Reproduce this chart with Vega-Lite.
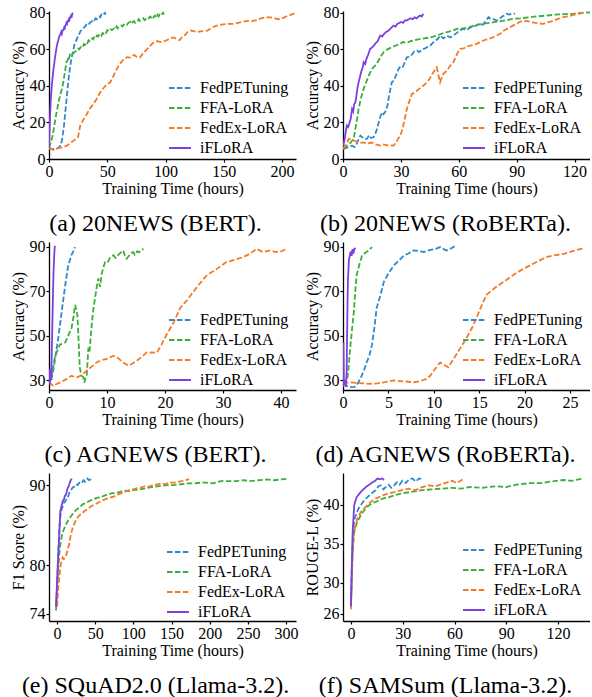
{
"$schema": "https://vega.github.io/schema/vega-lite/v6.json",
"padding": {"left": 10, "top": 4, "right": 0, "bottom": 0},
"config": {
  "font": "Liberation Serif",
  "view": {"stroke": null},
  "axis": {"grid": false, "domainColor": "black", "domainWidth": 1.3, "tickColor": "black", "tickSize": 3, "tickWidth": 1.2, "labelFont": "Liberation Serif", "labelFontSize": 16, "labelColor": "black", "labelPadding": 1, "titleFont": "Liberation Serif", "titleFontSize": 16, "titleFontWeight": "normal", "titleColor": "black", "labelFlush": false, "labelOverlap": false},
  "axisX": {"titlePadding": 1},
  "axisY": {"titlePadding": 3},
  "legend": {"labelFont": "Liberation Serif", "labelFontSize": 16, "labelColor": "black", "symbolSize": 484, "symbolStrokeWidth": 1.8, "labelOffset": 8, "rowPadding": -2, "padding": 0},
  "title": {"font": "Liberation Serif", "fontSize": 24, "fontWeight": "normal", "color": "black"}
},
"columns": 2,
"spacing": {"row": 83, "column": 47},
"bounds": "flush",
"resolve": {"scale": {"color": "independent", "strokeDash": "independent", "x": "independent", "y": "independent"}, "legend": {"color": "independent", "strokeDash": "independent"}},
"datasets": {
"a": [
{"s":"FedPETuning","t":0,"v":6},{"s":"FedPETuning","t":2,"v":5.5},{"s":"FedPETuning","t":4,"v":5},{"s":"FedPETuning","t":6,"v":5.5},{"s":"FedPETuning","t":8,"v":6},{"s":"FedPETuning","t":10,"v":7.5},{"s":"FedPETuning","t":11,"v":10},{"s":"FedPETuning","t":12,"v":14},{"s":"FedPETuning","t":13,"v":19},{"s":"FedPETuning","t":14,"v":26},{"s":"FedPETuning","t":15,"v":32},{"s":"FedPETuning","t":16,"v":39},{"s":"FedPETuning","t":17,"v":45},{"s":"FedPETuning","t":18,"v":50},{"s":"FedPETuning","t":19,"v":54},{"s":"FedPETuning","t":20,"v":57},{"s":"FedPETuning","t":21,"v":60},{"s":"FedPETuning","t":22,"v":63},{"s":"FedPETuning","t":23,"v":64},{"s":"FedPETuning","t":24,"v":66},{"s":"FedPETuning","t":25,"v":67},{"s":"FedPETuning","t":26,"v":68.5},{"s":"FedPETuning","t":27,"v":70},{"s":"FedPETuning","t":28,"v":70.5},{"s":"FedPETuning","t":29,"v":71.5},{"s":"FedPETuning","t":30,"v":72},{"s":"FedPETuning","t":31,"v":72.5},{"s":"FedPETuning","t":32,"v":73.5},{"s":"FedPETuning","t":33,"v":74},{"s":"FedPETuning","t":34,"v":73.5},{"s":"FedPETuning","t":35,"v":74.5},{"s":"FedPETuning","t":36,"v":75},{"s":"FedPETuning","t":37,"v":75.5},{"s":"FedPETuning","t":38,"v":76.5},{"s":"FedPETuning","t":39,"v":76},{"s":"FedPETuning","t":40,"v":77},{"s":"FedPETuning","t":41,"v":76.5},{"s":"FedPETuning","t":42,"v":77.5},{"s":"FedPETuning","t":43,"v":78},{"s":"FedPETuning","t":44,"v":77.5},{"s":"FedPETuning","t":45,"v":79},{"s":"FedPETuning","t":46,"v":78.5},{"s":"FedPETuning","t":47,"v":79.5},{"s":"FedPETuning","t":48,"v":80},{"s":"FedPETuning","t":48.5,"v":79},
{"s":"FFA-LoRA","t":0,"v":6},{"s":"FFA-LoRA","t":1,"v":8},{"s":"FFA-LoRA","t":2,"v":10},{"s":"FFA-LoRA","t":3,"v":12.5},{"s":"FFA-LoRA","t":3.7,"v":15},{"s":"FFA-LoRA","t":5,"v":20},{"s":"FFA-LoRA","t":6.6,"v":26},{"s":"FFA-LoRA","t":8.5,"v":32},{"s":"FFA-LoRA","t":10,"v":36},{"s":"FFA-LoRA","t":11,"v":38},{"s":"FFA-LoRA","t":12,"v":41},{"s":"FFA-LoRA","t":13,"v":45},{"s":"FFA-LoRA","t":14,"v":49},{"s":"FFA-LoRA","t":15,"v":53},{"s":"FFA-LoRA","t":16,"v":54},{"s":"FFA-LoRA","t":16.5,"v":55.5},{"s":"FFA-LoRA","t":17,"v":54.5},{"s":"FFA-LoRA","t":18,"v":57},{"s":"FFA-LoRA","t":19,"v":56.5},{"s":"FFA-LoRA","t":20,"v":57.5},{"s":"FFA-LoRA","t":21,"v":58},{"s":"FFA-LoRA","t":22,"v":58.5},{"s":"FFA-LoRA","t":23,"v":59},{"s":"FFA-LoRA","t":24,"v":59.5},{"s":"FFA-LoRA","t":25,"v":60.5},{"s":"FFA-LoRA","t":26,"v":60},{"s":"FFA-LoRA","t":27,"v":61},{"s":"FFA-LoRA","t":28,"v":62},{"s":"FFA-LoRA","t":29,"v":61.5},{"s":"FFA-LoRA","t":30,"v":63},{"s":"FFA-LoRA","t":31,"v":62.5},{"s":"FFA-LoRA","t":32,"v":64},{"s":"FFA-LoRA","t":33,"v":63.5},{"s":"FFA-LoRA","t":34,"v":65},{"s":"FFA-LoRA","t":35,"v":64.5},{"s":"FFA-LoRA","t":36,"v":65.5},{"s":"FFA-LoRA","t":37,"v":66},{"s":"FFA-LoRA","t":38,"v":65.5},{"s":"FFA-LoRA","t":39,"v":67},{"s":"FFA-LoRA","t":40,"v":66.5},{"s":"FFA-LoRA","t":41,"v":67.5},{"s":"FFA-LoRA","t":42,"v":67},{"s":"FFA-LoRA","t":43,"v":68},{"s":"FFA-LoRA","t":44,"v":68.5},{"s":"FFA-LoRA","t":45,"v":67.5},{"s":"FFA-LoRA","t":46,"v":69},{"s":"FFA-LoRA","t":47,"v":68.5},{"s":"FFA-LoRA","t":48,"v":69.5},{"s":"FFA-LoRA","t":49,"v":69},{"s":"FFA-LoRA","t":50,"v":70.5},{"s":"FFA-LoRA","t":52,"v":70},{"s":"FFA-LoRA","t":53,"v":71},{"s":"FFA-LoRA","t":54,"v":70.5},{"s":"FFA-LoRA","t":56,"v":71.5},{"s":"FFA-LoRA","t":57,"v":71},{"s":"FFA-LoRA","t":58,"v":72.5},{"s":"FFA-LoRA","t":59,"v":71.5},{"s":"FFA-LoRA","t":60,"v":72.5},{"s":"FFA-LoRA","t":62,"v":73},{"s":"FFA-LoRA","t":63,"v":72.5},{"s":"FFA-LoRA","t":64,"v":73.5},{"s":"FFA-LoRA","t":66,"v":74},{"s":"FFA-LoRA","t":67,"v":73.5},{"s":"FFA-LoRA","t":68,"v":74.5},{"s":"FFA-LoRA","t":70,"v":75},{"s":"FFA-LoRA","t":71,"v":74},{"s":"FFA-LoRA","t":72,"v":75},{"s":"FFA-LoRA","t":73,"v":75.5},{"s":"FFA-LoRA","t":74,"v":74.5},{"s":"FFA-LoRA","t":76,"v":75.5},{"s":"FFA-LoRA","t":77,"v":76.5},{"s":"FFA-LoRA","t":78,"v":75.5},{"s":"FFA-LoRA","t":80,"v":76.5},{"s":"FFA-LoRA","t":81,"v":77},{"s":"FFA-LoRA","t":82,"v":76},{"s":"FFA-LoRA","t":84,"v":77},{"s":"FFA-LoRA","t":85,"v":76.5},{"s":"FFA-LoRA","t":86,"v":77.5},{"s":"FFA-LoRA","t":87,"v":78},{"s":"FFA-LoRA","t":88,"v":77},{"s":"FFA-LoRA","t":89,"v":76.5},{"s":"FFA-LoRA","t":90,"v":78},{"s":"FFA-LoRA","t":91,"v":78.5},{"s":"FFA-LoRA","t":92,"v":77.5},{"s":"FFA-LoRA","t":93,"v":79},{"s":"FFA-LoRA","t":94,"v":78},{"s":"FFA-LoRA","t":95,"v":79},{"s":"FFA-LoRA","t":96,"v":78.5},{"s":"FFA-LoRA","t":97,"v":79.5},{"s":"FFA-LoRA","t":98,"v":80},{"s":"FFA-LoRA","t":98.5,"v":79},
{"s":"FedEx-LoRA","t":0,"v":5.5},{"s":"FedEx-LoRA","t":4,"v":5.5},{"s":"FedEx-LoRA","t":8,"v":6},{"s":"FedEx-LoRA","t":12,"v":6.4},{"s":"FedEx-LoRA","t":16,"v":7.5},{"s":"FedEx-LoRA","t":20,"v":9.5},{"s":"FedEx-LoRA","t":23,"v":11},{"s":"FedEx-LoRA","t":25,"v":12},{"s":"FedEx-LoRA","t":26.7,"v":18},{"s":"FedEx-LoRA","t":29,"v":21},{"s":"FedEx-LoRA","t":32,"v":24},{"s":"FedEx-LoRA","t":35,"v":27.5},{"s":"FedEx-LoRA","t":38,"v":30},{"s":"FedEx-LoRA","t":41,"v":33},{"s":"FedEx-LoRA","t":44,"v":36.5},{"s":"FedEx-LoRA","t":47,"v":39},{"s":"FedEx-LoRA","t":50,"v":41},{"s":"FedEx-LoRA","t":52.6,"v":42},{"s":"FedEx-LoRA","t":55,"v":45},{"s":"FedEx-LoRA","t":57,"v":48},{"s":"FedEx-LoRA","t":59.8,"v":51},{"s":"FedEx-LoRA","t":62,"v":53},{"s":"FedEx-LoRA","t":64,"v":54.5},{"s":"FedEx-LoRA","t":67,"v":55.7},{"s":"FedEx-LoRA","t":70,"v":55.5},{"s":"FedEx-LoRA","t":73,"v":57},{"s":"FedEx-LoRA","t":75,"v":56},{"s":"FedEx-LoRA","t":78,"v":55.5},{"s":"FedEx-LoRA","t":81,"v":58},{"s":"FedEx-LoRA","t":84,"v":60},{"s":"FedEx-LoRA","t":87,"v":62},{"s":"FedEx-LoRA","t":90,"v":64},{"s":"FedEx-LoRA","t":93,"v":64.5},{"s":"FedEx-LoRA","t":96,"v":64},{"s":"FedEx-LoRA","t":99,"v":64.5},{"s":"FedEx-LoRA","t":101,"v":65},{"s":"FedEx-LoRA","t":104,"v":66},{"s":"FedEx-LoRA","t":107,"v":66.5},{"s":"FedEx-LoRA","t":110,"v":65.5},{"s":"FedEx-LoRA","t":112,"v":65},{"s":"FedEx-LoRA","t":114,"v":66.5},{"s":"FedEx-LoRA","t":117,"v":68},{"s":"FedEx-LoRA","t":119,"v":69.5},{"s":"FedEx-LoRA","t":121.6,"v":70.3},{"s":"FedEx-LoRA","t":124,"v":70},{"s":"FedEx-LoRA","t":127,"v":69.5},{"s":"FedEx-LoRA","t":130,"v":69.8},{"s":"FedEx-LoRA","t":133,"v":70},{"s":"FedEx-LoRA","t":136,"v":70.3},{"s":"FedEx-LoRA","t":140,"v":72},{"s":"FedEx-LoRA","t":144,"v":73},{"s":"FedEx-LoRA","t":148,"v":73.5},{"s":"FedEx-LoRA","t":153,"v":74},{"s":"FedEx-LoRA","t":158,"v":74},{"s":"FedEx-LoRA","t":162,"v":74.5},{"s":"FedEx-LoRA","t":166,"v":75},{"s":"FedEx-LoRA","t":170,"v":75.6},{"s":"FedEx-LoRA","t":174,"v":75.5},{"s":"FedEx-LoRA","t":178,"v":76},{"s":"FedEx-LoRA","t":182,"v":77},{"s":"FedEx-LoRA","t":186,"v":77.5},{"s":"FedEx-LoRA","t":190,"v":77.5},{"s":"FedEx-LoRA","t":194,"v":77},{"s":"FedEx-LoRA","t":197,"v":76.5},{"s":"FedEx-LoRA","t":199,"v":76.7},{"s":"FedEx-LoRA","t":202,"v":77.5},{"s":"FedEx-LoRA","t":205,"v":78.5},{"s":"FedEx-LoRA","t":208,"v":79},{"s":"FedEx-LoRA","t":212,"v":80},
{"s":"iFLoRA","t":0,"v":6},{"s":"iFLoRA","t":0.3,"v":12},{"s":"iFLoRA","t":0.6,"v":18},{"s":"iFLoRA","t":1,"v":25},{"s":"iFLoRA","t":1.5,"v":32},{"s":"iFLoRA","t":2,"v":37},{"s":"iFLoRA","t":2.5,"v":41},{"s":"iFLoRA","t":3,"v":44},{"s":"iFLoRA","t":3.5,"v":47},{"s":"iFLoRA","t":4,"v":50},{"s":"iFLoRA","t":4.5,"v":52},{"s":"iFLoRA","t":5,"v":55},{"s":"iFLoRA","t":5.5,"v":57},{"s":"iFLoRA","t":6,"v":59},{"s":"iFLoRA","t":6.5,"v":61},{"s":"iFLoRA","t":7,"v":62.5},{"s":"iFLoRA","t":7.5,"v":64},{"s":"iFLoRA","t":8,"v":65},{"s":"iFLoRA","t":8.5,"v":66.5},{"s":"iFLoRA","t":9,"v":67.5},{"s":"iFLoRA","t":9.5,"v":68},{"s":"iFLoRA","t":10,"v":68.5},{"s":"iFLoRA","t":10.5,"v":69.5},{"s":"iFLoRA","t":11,"v":68.5},{"s":"iFLoRA","t":11.5,"v":70},{"s":"iFLoRA","t":12,"v":70.5},{"s":"iFLoRA","t":12.5,"v":71},{"s":"iFLoRA","t":13,"v":72},{"s":"iFLoRA","t":13.5,"v":71.5},{"s":"iFLoRA","t":14,"v":73},{"s":"iFLoRA","t":14.5,"v":73.5},{"s":"iFLoRA","t":15,"v":74.5},{"s":"iFLoRA","t":15.5,"v":74},{"s":"iFLoRA","t":16,"v":75.5},{"s":"iFLoRA","t":16.5,"v":75.5},{"s":"iFLoRA","t":17,"v":76.5},{"s":"iFLoRA","t":17.5,"v":76},{"s":"iFLoRA","t":18,"v":77.5},{"s":"iFLoRA","t":18.5,"v":77.5},{"s":"iFLoRA","t":19,"v":78.5},{"s":"iFLoRA","t":19.5,"v":78},{"s":"iFLoRA","t":20,"v":79.5},{"s":"iFLoRA","t":20.5,"v":80}
],
"b": [
{"s":"FedPETuning","t":0,"v":5.5},{"s":"FedPETuning","t":1.5,"v":6},{"s":"FedPETuning","t":3,"v":6.5},{"s":"FedPETuning","t":4.7,"v":7.3},{"s":"FedPETuning","t":6,"v":6.5},{"s":"FedPETuning","t":7,"v":8},{"s":"FedPETuning","t":8,"v":10.5},{"s":"FedPETuning","t":9,"v":12.8},{"s":"FedPETuning","t":10,"v":12},{"s":"FedPETuning","t":11,"v":11},{"s":"FedPETuning","t":12.4,"v":11},{"s":"FedPETuning","t":13.5,"v":13},{"s":"FedPETuning","t":14.5,"v":11.5},{"s":"FedPETuning","t":15.9,"v":12},{"s":"FedPETuning","t":16.5,"v":13},{"s":"FedPETuning","t":17.6,"v":16.4},{"s":"FedPETuning","t":18.5,"v":20},{"s":"FedPETuning","t":19.3,"v":23},{"s":"FedPETuning","t":20.2,"v":25.6},{"s":"FedPETuning","t":21,"v":24.5},{"s":"FedPETuning","t":22,"v":26},{"s":"FedPETuning","t":23,"v":29},{"s":"FedPETuning","t":23.6,"v":33},{"s":"FedPETuning","t":24.5,"v":38},{"s":"FedPETuning","t":25.3,"v":42},{"s":"FedPETuning","t":26.5,"v":43},{"s":"FedPETuning","t":27.5,"v":46},{"s":"FedPETuning","t":28.8,"v":49.3},{"s":"FedPETuning","t":30,"v":51},{"s":"FedPETuning","t":31,"v":50.5},{"s":"FedPETuning","t":32,"v":53},{"s":"FedPETuning","t":33.1,"v":55.7},{"s":"FedPETuning","t":34.5,"v":56},{"s":"FedPETuning","t":36,"v":57.5},{"s":"FedPETuning","t":37,"v":59},{"s":"FedPETuning","t":38.3,"v":59.4},{"s":"FedPETuning","t":39.5,"v":58.5},{"s":"FedPETuning","t":41,"v":60},{"s":"FedPETuning","t":42.5,"v":60.5},{"s":"FedPETuning","t":44,"v":61.5},{"s":"FedPETuning","t":45.2,"v":62},{"s":"FedPETuning","t":46.5,"v":63.5},{"s":"FedPETuning","t":48,"v":65},{"s":"FedPETuning","t":49,"v":65.5},{"s":"FedPETuning","t":50.3,"v":67.6},{"s":"FedPETuning","t":52,"v":66},{"s":"FedPETuning","t":54,"v":67.5},{"s":"FedPETuning","t":55.5,"v":66.5},{"s":"FedPETuning","t":57.2,"v":67.6},{"s":"FedPETuning","t":59,"v":69},{"s":"FedPETuning","t":60.5,"v":70.5},{"s":"FedPETuning","t":62.4,"v":71.2},{"s":"FedPETuning","t":64,"v":70.5},{"s":"FedPETuning","t":66,"v":72},{"s":"FedPETuning","t":68,"v":72.5},{"s":"FedPETuning","t":69.5,"v":73.5},{"s":"FedPETuning","t":71,"v":74},{"s":"FedPETuning","t":72.5,"v":73.5},{"s":"FedPETuning","t":74,"v":75.5},{"s":"FedPETuning","t":75.4,"v":77.6},{"s":"FedPETuning","t":76.5,"v":76.5},{"s":"FedPETuning","t":78,"v":76.5},{"s":"FedPETuning","t":79.7,"v":75.8},{"s":"FedPETuning","t":81,"v":76.5},{"s":"FedPETuning","t":82.5,"v":78},{"s":"FedPETuning","t":83.5,"v":78.5},{"s":"FedPETuning","t":84.8,"v":79.5},{"s":"FedPETuning","t":86,"v":79},{"s":"FedPETuning","t":87.5,"v":79.5},{"s":"FedPETuning","t":89.1,"v":79.5},
{"s":"FFA-LoRA","t":0,"v":6},{"s":"FFA-LoRA","t":2,"v":7},{"s":"FFA-LoRA","t":4,"v":9},{"s":"FFA-LoRA","t":5.5,"v":11},{"s":"FFA-LoRA","t":6.5,"v":17},{"s":"FFA-LoRA","t":7.3,"v":22},{"s":"FFA-LoRA","t":8.1,"v":27.4},{"s":"FFA-LoRA","t":9,"v":32},{"s":"FFA-LoRA","t":10,"v":36},{"s":"FFA-LoRA","t":10.7,"v":38.4},{"s":"FFA-LoRA","t":12,"v":42},{"s":"FFA-LoRA","t":13.5,"v":46},{"s":"FFA-LoRA","t":15,"v":49.3},{"s":"FFA-LoRA","t":16.5,"v":51},{"s":"FFA-LoRA","t":18,"v":53},{"s":"FFA-LoRA","t":19.5,"v":56},{"s":"FFA-LoRA","t":21,"v":58.4},{"s":"FFA-LoRA","t":23,"v":60},{"s":"FFA-LoRA","t":25,"v":61},{"s":"FFA-LoRA","t":27,"v":62},{"s":"FFA-LoRA","t":29.7,"v":63},{"s":"FFA-LoRA","t":31,"v":64},{"s":"FFA-LoRA","t":33,"v":63.5},{"s":"FFA-LoRA","t":35,"v":64.5},{"s":"FFA-LoRA","t":36.6,"v":64.8},{"s":"FFA-LoRA","t":39,"v":65.5},{"s":"FFA-LoRA","t":42,"v":66},{"s":"FFA-LoRA","t":45,"v":66.5},{"s":"FFA-LoRA","t":48.6,"v":67.6},{"s":"FFA-LoRA","t":51,"v":68.5},{"s":"FFA-LoRA","t":54,"v":69.5},{"s":"FFA-LoRA","t":56,"v":70},{"s":"FFA-LoRA","t":59,"v":71.2},{"s":"FFA-LoRA","t":62,"v":71.5},{"s":"FFA-LoRA","t":65,"v":72},{"s":"FFA-LoRA","t":68,"v":73},{"s":"FFA-LoRA","t":70,"v":73.5},{"s":"FFA-LoRA","t":72.8,"v":74},{"s":"FFA-LoRA","t":76,"v":74.5},{"s":"FFA-LoRA","t":79,"v":75},{"s":"FFA-LoRA","t":82,"v":75.5},{"s":"FFA-LoRA","t":85,"v":76},{"s":"FFA-LoRA","t":88.3,"v":76.7},{"s":"FFA-LoRA","t":92,"v":77},{"s":"FFA-LoRA","t":96,"v":77.5},{"s":"FFA-LoRA","t":100,"v":78},{"s":"FFA-LoRA","t":105.5,"v":78.5},{"s":"FFA-LoRA","t":110,"v":79},{"s":"FFA-LoRA","t":115,"v":79.3},{"s":"FFA-LoRA","t":120,"v":79.6},{"s":"FFA-LoRA","t":124,"v":80},{"s":"FFA-LoRA","t":128,"v":80.3},
{"s":"FedEx-LoRA","t":0,"v":5.5},{"s":"FedEx-LoRA","t":1.5,"v":8},{"s":"FedEx-LoRA","t":3.1,"v":11},{"s":"FedEx-LoRA","t":5,"v":10.5},{"s":"FedEx-LoRA","t":7,"v":9.5},{"s":"FedEx-LoRA","t":9,"v":9},{"s":"FedEx-LoRA","t":10.7,"v":9},{"s":"FedEx-LoRA","t":13,"v":8.5},{"s":"FedEx-LoRA","t":15,"v":9},{"s":"FedEx-LoRA","t":17,"v":8},{"s":"FedEx-LoRA","t":19.3,"v":7.3},{"s":"FedEx-LoRA","t":21,"v":8},{"s":"FedEx-LoRA","t":23,"v":7.5},{"s":"FedEx-LoRA","t":26.2,"v":7.3},{"s":"FedEx-LoRA","t":27.5,"v":9},{"s":"FedEx-LoRA","t":28.5,"v":11},{"s":"FedEx-LoRA","t":29.7,"v":12.8},{"s":"FedEx-LoRA","t":31,"v":17},{"s":"FedEx-LoRA","t":32,"v":22},{"s":"FedEx-LoRA","t":33.1,"v":27.4},{"s":"FedEx-LoRA","t":34.5,"v":32},{"s":"FedEx-LoRA","t":35.7,"v":35.6},{"s":"FedEx-LoRA","t":37.5,"v":36.5},{"s":"FedEx-LoRA","t":39,"v":38},{"s":"FedEx-LoRA","t":41.7,"v":40.2},{"s":"FedEx-LoRA","t":43.5,"v":42},{"s":"FedEx-LoRA","t":45,"v":44},{"s":"FedEx-LoRA","t":46.5,"v":47},{"s":"FedEx-LoRA","t":48.6,"v":50.2},{"s":"FedEx-LoRA","t":49.2,"v":47},{"s":"FedEx-LoRA","t":50.3,"v":42},{"s":"FedEx-LoRA","t":51,"v":44},{"s":"FedEx-LoRA","t":52,"v":46.6},{"s":"FedEx-LoRA","t":54,"v":48.5},{"s":"FedEx-LoRA","t":55.5,"v":51},{"s":"FedEx-LoRA","t":57.2,"v":53},{"s":"FedEx-LoRA","t":58.5,"v":56},{"s":"FedEx-LoRA","t":59.5,"v":58.5},{"s":"FedEx-LoRA","t":60.7,"v":60.3},{"s":"FedEx-LoRA","t":62.5,"v":60.5},{"s":"FedEx-LoRA","t":64,"v":61.5},{"s":"FedEx-LoRA","t":66,"v":62},{"s":"FedEx-LoRA","t":67.5,"v":62.5},{"s":"FedEx-LoRA","t":69.3,"v":63},{"s":"FedEx-LoRA","t":71,"v":64},{"s":"FedEx-LoRA","t":73,"v":65},{"s":"FedEx-LoRA","t":75,"v":65.5},{"s":"FedEx-LoRA","t":77.5,"v":66.5},{"s":"FedEx-LoRA","t":79.7,"v":67.6},{"s":"FedEx-LoRA","t":81.5,"v":68.5},{"s":"FedEx-LoRA","t":83,"v":70},{"s":"FedEx-LoRA","t":84.5,"v":71},{"s":"FedEx-LoRA","t":86.6,"v":72.1},{"s":"FedEx-LoRA","t":88,"v":73},{"s":"FedEx-LoRA","t":90,"v":74},{"s":"FedEx-LoRA","t":91.5,"v":75},{"s":"FedEx-LoRA","t":93.5,"v":75.8},{"s":"FedEx-LoRA","t":95.5,"v":75.5},{"s":"FedEx-LoRA","t":97.5,"v":75},{"s":"FedEx-LoRA","t":99.5,"v":74.5},{"s":"FedEx-LoRA","t":101.5,"v":74.2},{"s":"FedEx-LoRA","t":103.8,"v":74},{"s":"FedEx-LoRA","t":106,"v":74.8},{"s":"FedEx-LoRA","t":108.5,"v":75.5},{"s":"FedEx-LoRA","t":111,"v":76.5},{"s":"FedEx-LoRA","t":114.2,"v":77.6},{"s":"FedEx-LoRA","t":117,"v":78.2},{"s":"FedEx-LoRA","t":120,"v":79},{"s":"FedEx-LoRA","t":122,"v":79.5},{"s":"FedEx-LoRA","t":124.5,"v":80},
{"s":"iFLoRA","t":0,"v":7.3},{"s":"iFLoRA","t":0.7,"v":10},{"s":"iFLoRA","t":1.3,"v":14},{"s":"iFLoRA","t":2,"v":18.3},{"s":"iFLoRA","t":2.7,"v":17.5},{"s":"iFLoRA","t":3.4,"v":20},{"s":"iFLoRA","t":4,"v":22},{"s":"iFLoRA","t":4.7,"v":27.4},{"s":"iFLoRA","t":5.3,"v":26},{"s":"iFLoRA","t":5.8,"v":30},{"s":"iFLoRA","t":6.4,"v":31},{"s":"iFLoRA","t":7,"v":35},{"s":"iFLoRA","t":7.5,"v":39},{"s":"iFLoRA","t":8.1,"v":42},{"s":"iFLoRA","t":8.8,"v":45},{"s":"iFLoRA","t":9.5,"v":48},{"s":"iFLoRA","t":10.2,"v":50},{"s":"iFLoRA","t":10.7,"v":53},{"s":"iFLoRA","t":11.5,"v":52},{"s":"iFLoRA","t":12.2,"v":55},{"s":"iFLoRA","t":13,"v":57},{"s":"iFLoRA","t":14.1,"v":60.3},{"s":"iFLoRA","t":15,"v":61},{"s":"iFLoRA","t":16,"v":62},{"s":"iFLoRA","t":17,"v":63.5},{"s":"iFLoRA","t":18,"v":64.5},{"s":"iFLoRA","t":19.3,"v":67.6},{"s":"iFLoRA","t":20.3,"v":67},{"s":"iFLoRA","t":21.3,"v":68.5},{"s":"iFLoRA","t":22.3,"v":69.5},{"s":"iFLoRA","t":23.3,"v":70},{"s":"iFLoRA","t":24.3,"v":71},{"s":"iFLoRA","t":25.2,"v":72},{"s":"iFLoRA","t":26.2,"v":73},{"s":"iFLoRA","t":27.2,"v":72.5},{"s":"iFLoRA","t":28.2,"v":74},{"s":"iFLoRA","t":29.2,"v":74.5},{"s":"iFLoRA","t":30.2,"v":75},{"s":"iFLoRA","t":31.2,"v":74.5},{"s":"iFLoRA","t":32.2,"v":76},{"s":"iFLoRA","t":33.1,"v":75.8},{"s":"iFLoRA","t":34.1,"v":76.5},{"s":"iFLoRA","t":35.1,"v":77},{"s":"iFLoRA","t":36.1,"v":76.5},{"s":"iFLoRA","t":37.1,"v":77.5},{"s":"iFLoRA","t":38.1,"v":77},{"s":"iFLoRA","t":39.1,"v":78},{"s":"iFLoRA","t":40,"v":78.5},{"s":"iFLoRA","t":40.8,"v":78},{"s":"iFLoRA","t":41.7,"v":79.5}
],
"c": [
{"s":"FedPETuning","t":0.4,"v":30},{"s":"FedPETuning","t":0.6,"v":32.8},{"s":"FedPETuning","t":0.8,"v":35.5},{"s":"FedPETuning","t":1,"v":38.7},{"s":"FedPETuning","t":1.3,"v":44},{"s":"FedPETuning","t":1.6,"v":49},{"s":"FedPETuning","t":1.9,"v":55},{"s":"FedPETuning","t":2.2,"v":61},{"s":"FedPETuning","t":2.5,"v":67},{"s":"FedPETuning","t":2.8,"v":72.8},{"s":"FedPETuning","t":3.1,"v":78},{"s":"FedPETuning","t":3.3,"v":81.7},{"s":"FedPETuning","t":3.6,"v":84},{"s":"FedPETuning","t":3.9,"v":86.5},{"s":"FedPETuning","t":4.2,"v":88},{"s":"FedPETuning","t":4.5,"v":89.9},
{"s":"FFA-LoRA","t":0.4,"v":31},{"s":"FFA-LoRA","t":0.6,"v":34.3},{"s":"FFA-LoRA","t":1,"v":40.2},{"s":"FFA-LoRA","t":1.4,"v":43},{"s":"FFA-LoRA","t":1.9,"v":46.1},{"s":"FFA-LoRA","t":2.4,"v":46.5},{"s":"FFA-LoRA","t":2.8,"v":47},{"s":"FFA-LoRA","t":3.3,"v":50},{"s":"FFA-LoRA","t":3.9,"v":53.6},{"s":"FFA-LoRA","t":4.2,"v":58},{"s":"FFA-LoRA","t":4.5,"v":63.9},{"s":"FFA-LoRA","t":4.7,"v":62},{"s":"FFA-LoRA","t":4.9,"v":59.5},{"s":"FFA-LoRA","t":5.1,"v":48},{"s":"FFA-LoRA","t":5.3,"v":35.8},{"s":"FFA-LoRA","t":5.6,"v":32},{"s":"FFA-LoRA","t":5.9,"v":31.4},{"s":"FFA-LoRA","t":6.1,"v":29},{"s":"FFA-LoRA","t":6.3,"v":31},{"s":"FFA-LoRA","t":6.5,"v":32},{"s":"FFA-LoRA","t":6.8,"v":44.7},{"s":"FFA-LoRA","t":7,"v":43},{"s":"FFA-LoRA","t":7.2,"v":50},{"s":"FFA-LoRA","t":7.6,"v":61},{"s":"FFA-LoRA","t":8,"v":68},{"s":"FFA-LoRA","t":8.3,"v":73},{"s":"FFA-LoRA","t":8.5,"v":75.8},{"s":"FFA-LoRA","t":8.8,"v":72},{"s":"FFA-LoRA","t":9.1,"v":78},{"s":"FFA-LoRA","t":9.4,"v":81},{"s":"FFA-LoRA","t":9.7,"v":83.2},{"s":"FFA-LoRA","t":10.1,"v":83},{"s":"FFA-LoRA","t":10.5,"v":85},{"s":"FFA-LoRA","t":11.1,"v":86.2},{"s":"FFA-LoRA","t":11.5,"v":85},{"s":"FFA-LoRA","t":12,"v":86.5},{"s":"FFA-LoRA","t":12.4,"v":87.5},{"s":"FFA-LoRA","t":12.8,"v":88.4},{"s":"FFA-LoRA","t":13.1,"v":86},{"s":"FFA-LoRA","t":13.4,"v":84.7},{"s":"FFA-LoRA","t":13.8,"v":86},{"s":"FFA-LoRA","t":14.1,"v":87},{"s":"FFA-LoRA","t":14.5,"v":87.7},{"s":"FFA-LoRA","t":14.8,"v":86.5},{"s":"FFA-LoRA","t":15.2,"v":88},{"s":"FFA-LoRA","t":15.5,"v":87.5},{"s":"FFA-LoRA","t":15.9,"v":88.5},{"s":"FFA-LoRA","t":16.3,"v":89.1},
{"s":"FedEx-LoRA","t":0,"v":29.1},{"s":"FedEx-LoRA","t":0.7,"v":27.5},{"s":"FedEx-LoRA","t":1.5,"v":28.5},{"s":"FedEx-LoRA","t":2.3,"v":29.5},{"s":"FedEx-LoRA","t":3.1,"v":30.6},{"s":"FedEx-LoRA","t":3.9,"v":32},{"s":"FedEx-LoRA","t":4.4,"v":31.5},{"s":"FedEx-LoRA","t":5,"v":31.4},{"s":"FedEx-LoRA","t":5.7,"v":32.5},{"s":"FedEx-LoRA","t":6.5,"v":34.3},{"s":"FedEx-LoRA","t":7.3,"v":36},{"s":"FedEx-LoRA","t":8.2,"v":38},{"s":"FedEx-LoRA","t":9,"v":39},{"s":"FedEx-LoRA","t":10,"v":39.6},{"s":"FedEx-LoRA","t":11.1,"v":41},{"s":"FedEx-LoRA","t":11.9,"v":40},{"s":"FedEx-LoRA","t":12.8,"v":38},{"s":"FedEx-LoRA","t":13.7,"v":36.6},{"s":"FedEx-LoRA","t":14.4,"v":37.5},{"s":"FedEx-LoRA","t":15.1,"v":38.7},{"s":"FedEx-LoRA","t":16,"v":40.5},{"s":"FedEx-LoRA","t":16.8,"v":42.4},{"s":"FedEx-LoRA","t":17.7,"v":42.5},{"s":"FedEx-LoRA","t":18.6,"v":42.4},{"s":"FedEx-LoRA","t":19.4,"v":46},{"s":"FedEx-LoRA","t":20.3,"v":50.6},{"s":"FedEx-LoRA","t":21.5,"v":56},{"s":"FedEx-LoRA","t":22.6,"v":62.4},{"s":"FedEx-LoRA","t":23.8,"v":66},{"s":"FedEx-LoRA","t":24.9,"v":69.8},{"s":"FedEx-LoRA","t":26,"v":73.5},{"s":"FedEx-LoRA","t":27.2,"v":77.2},{"s":"FedEx-LoRA","t":28.9,"v":80},{"s":"FedEx-LoRA","t":30.6,"v":83.2},{"s":"FedEx-LoRA","t":32,"v":84.2},{"s":"FedEx-LoRA","t":33.5,"v":85.4},{"s":"FedEx-LoRA","t":34.7,"v":87},{"s":"FedEx-LoRA","t":35.8,"v":89.1},{"s":"FedEx-LoRA","t":36.9,"v":87.7},{"s":"FedEx-LoRA","t":38.1,"v":88.4},{"s":"FedEx-LoRA","t":39,"v":87.8},{"s":"FedEx-LoRA","t":39.8,"v":87.7},{"s":"FedEx-LoRA","t":40.9,"v":89},
{"s":"iFLoRA","t":0,"v":28},{"s":"iFLoRA","t":0.05,"v":35},{"s":"iFLoRA","t":0.1,"v":28},{"s":"iFLoRA","t":0.15,"v":34},{"s":"iFLoRA","t":0.2,"v":29},{"s":"iFLoRA","t":0.25,"v":35},{"s":"iFLoRA","t":0.3,"v":30},{"s":"iFLoRA","t":0.4,"v":33},{"s":"iFLoRA","t":0.5,"v":45},{"s":"iFLoRA","t":0.6,"v":58},{"s":"iFLoRA","t":0.7,"v":70},{"s":"iFLoRA","t":0.8,"v":80},{"s":"iFLoRA","t":0.9,"v":86},{"s":"iFLoRA","t":1,"v":90.5}
],
"d": [
{"s":"FedPETuning","t":0,"v":28.4},{"s":"FedPETuning","t":0.7,"v":26.9},{"s":"FedPETuning","t":1.3,"v":27},{"s":"FedPETuning","t":1.6,"v":28.5},{"s":"FedPETuning","t":1.9,"v":30.6},{"s":"FedPETuning","t":2.3,"v":34.3},{"s":"FedPETuning","t":2.6,"v":38},{"s":"FedPETuning","t":2.9,"v":41},{"s":"FedPETuning","t":3.2,"v":46.1},{"s":"FedPETuning","t":3.5,"v":55},{"s":"FedPETuning","t":3.7,"v":62.4},{"s":"FedPETuning","t":4.1,"v":68},{"s":"FedPETuning","t":4.5,"v":74.3},{"s":"FedPETuning","t":5,"v":78},{"s":"FedPETuning","t":5.6,"v":81.7},{"s":"FedPETuning","t":6.2,"v":84},{"s":"FedPETuning","t":6.7,"v":86.1},{"s":"FedPETuning","t":7.2,"v":87},{"s":"FedPETuning","t":7.8,"v":88.4},{"s":"FedPETuning","t":8.3,"v":88.2},{"s":"FedPETuning","t":8.9,"v":87.7},{"s":"FedPETuning","t":9.5,"v":88.5},{"s":"FedPETuning","t":10.1,"v":89},{"s":"FedPETuning","t":10.7,"v":89.9},{"s":"FedPETuning","t":11.1,"v":89},{"s":"FedPETuning","t":11.4,"v":88.4},{"s":"FedPETuning","t":11.9,"v":89.3},{"s":"FedPETuning","t":12.3,"v":90.3},
{"s":"FFA-LoRA","t":0,"v":28},{"s":"FFA-LoRA","t":0.44,"v":29.9},{"s":"FFA-LoRA","t":0.6,"v":35},{"s":"FFA-LoRA","t":0.73,"v":41.7},{"s":"FFA-LoRA","t":0.95,"v":51},{"s":"FFA-LoRA","t":1.2,"v":61},{"s":"FFA-LoRA","t":1.35,"v":70},{"s":"FFA-LoRA","t":1.5,"v":77.2},{"s":"FFA-LoRA","t":1.8,"v":82},{"s":"FFA-LoRA","t":2.1,"v":86.1},{"s":"FFA-LoRA","t":2.35,"v":87},{"s":"FFA-LoRA","t":2.6,"v":87.7},{"s":"FFA-LoRA","t":2.9,"v":88.8},{"s":"FFA-LoRA","t":3.2,"v":89.9},
{"s":"FedEx-LoRA","t":0,"v":28.4},{"s":"FedEx-LoRA","t":0.7,"v":29.1},{"s":"FedEx-LoRA","t":1.5,"v":28.8},{"s":"FedEx-LoRA","t":2.2,"v":28.6},{"s":"FedEx-LoRA","t":3,"v":28.4},{"s":"FedEx-LoRA","t":3.8,"v":28.6},{"s":"FedEx-LoRA","t":4.6,"v":29.1},{"s":"FedEx-LoRA","t":5.6,"v":29.9},{"s":"FedEx-LoRA","t":6.7,"v":29.5},{"s":"FedEx-LoRA","t":7.8,"v":29.1},{"s":"FedEx-LoRA","t":8.5,"v":29.6},{"s":"FedEx-LoRA","t":9.2,"v":30.6},{"s":"FedEx-LoRA","t":9.6,"v":32},{"s":"FedEx-LoRA","t":10,"v":34.3},{"s":"FedEx-LoRA","t":10.4,"v":36.5},{"s":"FedEx-LoRA","t":10.7,"v":38},{"s":"FedEx-LoRA","t":11.1,"v":37},{"s":"FedEx-LoRA","t":11.6,"v":35.8},{"s":"FedEx-LoRA","t":12,"v":38.5},{"s":"FedEx-LoRA","t":12.5,"v":41.7},{"s":"FedEx-LoRA","t":13,"v":45},{"s":"FedEx-LoRA","t":13.6,"v":49},{"s":"FedEx-LoRA","t":14.2,"v":53.5},{"s":"FedEx-LoRA","t":14.7,"v":58},{"s":"FedEx-LoRA","t":15.2,"v":63},{"s":"FedEx-LoRA","t":15.8,"v":68.4},{"s":"FedEx-LoRA","t":16.7,"v":71.5},{"s":"FedEx-LoRA","t":17.7,"v":74.3},{"s":"FedEx-LoRA","t":18.8,"v":77.5},{"s":"FedEx-LoRA","t":19.9,"v":80.2},{"s":"FedEx-LoRA","t":21.2,"v":83},{"s":"FedEx-LoRA","t":22.4,"v":85.4},{"s":"FedEx-LoRA","t":23.3,"v":86.2},{"s":"FedEx-LoRA","t":24.3,"v":86.9},{"s":"FedEx-LoRA","t":25.4,"v":88.2},{"s":"FedEx-LoRA","t":26.5,"v":89.4},
{"s":"iFLoRA","t":0,"v":27},{"s":"iFLoRA","t":0.05,"v":47},{"s":"iFLoRA","t":0.1,"v":28},{"s":"iFLoRA","t":0.2,"v":30},{"s":"iFLoRA","t":0.3,"v":27},{"s":"iFLoRA","t":0.4,"v":33},{"s":"iFLoRA","t":0.45,"v":50},{"s":"iFLoRA","t":0.5,"v":65},{"s":"iFLoRA","t":0.55,"v":76},{"s":"iFLoRA","t":0.65,"v":84},{"s":"iFLoRA","t":0.75,"v":86},{"s":"iFLoRA","t":0.85,"v":88},{"s":"iFLoRA","t":0.95,"v":86},{"s":"iFLoRA","t":1.05,"v":89},{"s":"iFLoRA","t":1.15,"v":87},{"s":"iFLoRA","t":1.25,"v":89},{"s":"iFLoRA","t":1.4,"v":89.5}
],
"e": [
{"s":"FedPETuning","t":-1,"v":75},{"s":"FedPETuning","t":0,"v":77},{"s":"FedPETuning","t":1,"v":80},{"s":"FedPETuning","t":2,"v":82.5},{"s":"FedPETuning","t":3,"v":84.6},{"s":"FedPETuning","t":4,"v":85.8},{"s":"FedPETuning","t":5,"v":86.5},{"s":"FedPETuning","t":6,"v":87},{"s":"FedPETuning","t":7.4,"v":87.3},{"s":"FedPETuning","t":9,"v":87.8},{"s":"FedPETuning","t":11,"v":88},{"s":"FedPETuning","t":12.5,"v":88.3},{"s":"FedPETuning","t":14,"v":88.4},{"s":"FedPETuning","t":16,"v":89},{"s":"FedPETuning","t":18,"v":89.3},{"s":"FedPETuning","t":20.5,"v":89.7},{"s":"FedPETuning","t":22.5,"v":89.8},{"s":"FedPETuning","t":25,"v":90.1},{"s":"FedPETuning","t":27,"v":90},{"s":"FedPETuning","t":29.2,"v":90.3},{"s":"FedPETuning","t":31,"v":90.5},{"s":"FedPETuning","t":33,"v":90.4},{"s":"FedPETuning","t":35,"v":90.6},{"s":"FedPETuning","t":36.5,"v":90.4},{"s":"FedPETuning","t":38,"v":90.6},{"s":"FedPETuning","t":40,"v":90.8},{"s":"FedPETuning","t":42,"v":90.6},{"s":"FedPETuning","t":44,"v":90.7},{"s":"FedPETuning","t":45.5,"v":90.6},{"s":"FedPETuning","t":46.7,"v":90.7},
{"s":"FFA-LoRA","t":-1.3,"v":74.4},{"s":"FFA-LoRA","t":0,"v":77.5},{"s":"FFA-LoRA","t":1.7,"v":79.8},{"s":"FFA-LoRA","t":3.5,"v":82},{"s":"FFA-LoRA","t":5.2,"v":83.1},{"s":"FFA-LoRA","t":7,"v":84},{"s":"FFA-LoRA","t":9,"v":84.5},{"s":"FFA-LoRA","t":11.8,"v":85.1},{"s":"FFA-LoRA","t":15,"v":85.7},{"s":"FFA-LoRA","t":18,"v":86.1},{"s":"FFA-LoRA","t":20.5,"v":86.4},{"s":"FFA-LoRA","t":25,"v":86.9},{"s":"FFA-LoRA","t":29,"v":87.2},{"s":"FFA-LoRA","t":33.6,"v":87.6},{"s":"FFA-LoRA","t":38,"v":87.8},{"s":"FFA-LoRA","t":42,"v":88},{"s":"FFA-LoRA","t":46.7,"v":88.2},{"s":"FFA-LoRA","t":52,"v":88.4},{"s":"FFA-LoRA","t":58,"v":88.5},{"s":"FFA-LoRA","t":62,"v":88.7},{"s":"FFA-LoRA","t":66.4,"v":88.8},{"s":"FFA-LoRA","t":72,"v":89},{"s":"FFA-LoRA","t":78,"v":89},{"s":"FFA-LoRA","t":83.8,"v":89.2},{"s":"FFA-LoRA","t":90,"v":89.3},{"s":"FFA-LoRA","t":96,"v":89.2},{"s":"FFA-LoRA","t":100,"v":89.4},{"s":"FFA-LoRA","t":105,"v":89.4},{"s":"FFA-LoRA","t":110,"v":89.5},{"s":"FFA-LoRA","t":116,"v":89.6},{"s":"FFA-LoRA","t":122,"v":89.7},{"s":"FFA-LoRA","t":128,"v":89.8},{"s":"FFA-LoRA","t":136,"v":89.9},{"s":"FFA-LoRA","t":144,"v":90},{"s":"FFA-LoRA","t":152,"v":90},{"s":"FFA-LoRA","t":162.3,"v":90.1},{"s":"FFA-LoRA","t":170,"v":90.2},{"s":"FFA-LoRA","t":178,"v":90.2},{"s":"FFA-LoRA","t":188.5,"v":90.3},{"s":"FFA-LoRA","t":196,"v":90.3},{"s":"FFA-LoRA","t":204,"v":90.2},{"s":"FFA-LoRA","t":214.7,"v":90.5},{"s":"FFA-LoRA","t":224,"v":90.5},{"s":"FFA-LoRA","t":234,"v":90.5},{"s":"FFA-LoRA","t":244,"v":90.6},{"s":"FFA-LoRA","t":254,"v":90.5},{"s":"FFA-LoRA","t":264,"v":90.6},{"s":"FFA-LoRA","t":274,"v":90.7},{"s":"FFA-LoRA","t":284,"v":90.6},{"s":"FFA-LoRA","t":294,"v":90.7},{"s":"FFA-LoRA","t":302,"v":90.8},
{"s":"FedEx-LoRA","t":0,"v":74.9},{"s":"FedEx-LoRA","t":1.5,"v":77},{"s":"FedEx-LoRA","t":3,"v":78.6},{"s":"FedEx-LoRA","t":5,"v":80.2},{"s":"FedEx-LoRA","t":7.4,"v":81},{"s":"FedEx-LoRA","t":9,"v":80.8},{"s":"FedEx-LoRA","t":11.8,"v":81.2},{"s":"FedEx-LoRA","t":13.5,"v":81.8},{"s":"FedEx-LoRA","t":16,"v":82.7},{"s":"FedEx-LoRA","t":18,"v":83.8},{"s":"FedEx-LoRA","t":20.5,"v":84.7},{"s":"FedEx-LoRA","t":23.5,"v":85.4},{"s":"FedEx-LoRA","t":27,"v":86},{"s":"FedEx-LoRA","t":30,"v":86.3},{"s":"FedEx-LoRA","t":33,"v":86.5},{"s":"FedEx-LoRA","t":36.5,"v":86.8},{"s":"FedEx-LoRA","t":40,"v":87},{"s":"FedEx-LoRA","t":45,"v":87.4},{"s":"FedEx-LoRA","t":50,"v":87.6},{"s":"FedEx-LoRA","t":57.6,"v":88},{"s":"FedEx-LoRA","t":62,"v":88.2},{"s":"FedEx-LoRA","t":68,"v":88.4},{"s":"FedEx-LoRA","t":75,"v":88.6},{"s":"FedEx-LoRA","t":82,"v":88.9},{"s":"FedEx-LoRA","t":87,"v":89.1},{"s":"FedEx-LoRA","t":92.5,"v":89.3},{"s":"FedEx-LoRA","t":98,"v":89.4},{"s":"FedEx-LoRA","t":104,"v":89.6},{"s":"FedEx-LoRA","t":110,"v":89.7},{"s":"FedEx-LoRA","t":116,"v":89.9},{"s":"FedEx-LoRA","t":121,"v":89.8},{"s":"FedEx-LoRA","t":126,"v":90},{"s":"FedEx-LoRA","t":131.8,"v":90.1},{"s":"FedEx-LoRA","t":137,"v":90.2},{"s":"FedEx-LoRA","t":142,"v":90.1},{"s":"FedEx-LoRA","t":147,"v":90.3},{"s":"FedEx-LoRA","t":153.5,"v":90.3},{"s":"FedEx-LoRA","t":158,"v":90.4},{"s":"FedEx-LoRA","t":163,"v":90.5},{"s":"FedEx-LoRA","t":167,"v":90.5},{"s":"FedEx-LoRA","t":171,"v":90.7},{"s":"FedEx-LoRA","t":173,"v":90.7},
{"s":"iFLoRA","t":-1.3,"v":74.9},{"s":"iFLoRA","t":-0.3,"v":77},{"s":"iFLoRA","t":0.9,"v":79.8},{"s":"iFLoRA","t":2,"v":82},{"s":"iFLoRA","t":3,"v":83.9},{"s":"iFLoRA","t":4.3,"v":86.8},{"s":"iFLoRA","t":5.5,"v":87.2},{"s":"iFLoRA","t":7.4,"v":88},{"s":"iFLoRA","t":9,"v":88.2},{"s":"iFLoRA","t":10.5,"v":88.7},{"s":"iFLoRA","t":11.8,"v":88.8},{"s":"iFLoRA","t":13.5,"v":89.5},{"s":"iFLoRA","t":15,"v":89.8},{"s":"iFLoRA","t":16.1,"v":90.1},{"s":"iFLoRA","t":17.5,"v":90.5},{"s":"iFLoRA","t":19.2,"v":90.8}
],
"f": [
{"s":"FedPETuning","t":0,"v":27},{"s":"FedPETuning","t":0.5,"v":32},{"s":"FedPETuning","t":1.3,"v":37},{"s":"FedPETuning","t":2.1,"v":38.2},{"s":"FedPETuning","t":2.9,"v":38.7},{"s":"FedPETuning","t":4.3,"v":39.5},{"s":"FedPETuning","t":5.8,"v":40},{"s":"FedPETuning","t":7.7,"v":40.6},{"s":"FedPETuning","t":9.6,"v":41},{"s":"FedPETuning","t":12,"v":41.5},{"s":"FedPETuning","t":14.4,"v":41.9},{"s":"FedPETuning","t":15.9,"v":42.4},{"s":"FedPETuning","t":17.3,"v":42.5},{"s":"FedPETuning","t":18.8,"v":42},{"s":"FedPETuning","t":20.2,"v":42.3},{"s":"FedPETuning","t":21.8,"v":42.6},{"s":"FedPETuning","t":23.4,"v":42.2},{"s":"FedPETuning","t":25,"v":42.5},{"s":"FedPETuning","t":26.6,"v":42.9},{"s":"FedPETuning","t":28.2,"v":42.6},{"s":"FedPETuning","t":29.8,"v":43.1},{"s":"FedPETuning","t":31.8,"v":42.8},{"s":"FedPETuning","t":33.7,"v":43.3},{"s":"FedPETuning","t":35.6,"v":43.4},{"s":"FedPETuning","t":37.5,"v":43},{"s":"FedPETuning","t":39.5,"v":43.4},{"s":"FedPETuning","t":41.4,"v":43.3},
{"s":"FFA-LoRA","t":0,"v":27},{"s":"FFA-LoRA","t":0.7,"v":33},{"s":"FFA-LoRA","t":1.9,"v":36.6},{"s":"FFA-LoRA","t":3.3,"v":37.6},{"s":"FFA-LoRA","t":4.8,"v":38.3},{"s":"FFA-LoRA","t":7.2,"v":39.2},{"s":"FFA-LoRA","t":9.6,"v":39.8},{"s":"FFA-LoRA","t":12,"v":40.2},{"s":"FFA-LoRA","t":14.4,"v":40.4},{"s":"FFA-LoRA","t":18.3,"v":40.8},{"s":"FFA-LoRA","t":22.1,"v":41},{"s":"FFA-LoRA","t":26,"v":41.3},{"s":"FFA-LoRA","t":29.8,"v":41.5},{"s":"FFA-LoRA","t":35.6,"v":41.7},{"s":"FFA-LoRA","t":41.4,"v":41.9},{"s":"FFA-LoRA","t":47,"v":42},{"s":"FFA-LoRA","t":52.9,"v":42.1},{"s":"FFA-LoRA","t":58.5,"v":42.2},{"s":"FFA-LoRA","t":64,"v":42.1},{"s":"FFA-LoRA","t":68.9,"v":42.3},{"s":"FFA-LoRA","t":76,"v":42.2},{"s":"FFA-LoRA","t":84.2,"v":42.4},{"s":"FFA-LoRA","t":90,"v":42.3},{"s":"FFA-LoRA","t":96,"v":42.6},{"s":"FFA-LoRA","t":103.5,"v":42.8},{"s":"FFA-LoRA","t":110,"v":42.8},{"s":"FFA-LoRA","t":116,"v":43},{"s":"FFA-LoRA","t":122.7,"v":43.2},{"s":"FFA-LoRA","t":128,"v":43.1},{"s":"FFA-LoRA","t":134.3,"v":43.4},
{"s":"FedEx-LoRA","t":0,"v":26.6},{"s":"FedEx-LoRA","t":0.6,"v":31},{"s":"FedEx-LoRA","t":1.3,"v":35.8},{"s":"FedEx-LoRA","t":2.5,"v":37.3},{"s":"FedEx-LoRA","t":3.8,"v":38.3},{"s":"FedEx-LoRA","t":5.8,"v":39.1},{"s":"FedEx-LoRA","t":7.7,"v":39.6},{"s":"FedEx-LoRA","t":9.6,"v":40},{"s":"FedEx-LoRA","t":11.5,"v":40.4},{"s":"FedEx-LoRA","t":13.9,"v":40.8},{"s":"FedEx-LoRA","t":16.3,"v":41},{"s":"FedEx-LoRA","t":19.2,"v":41.3},{"s":"FedEx-LoRA","t":22.1,"v":41.5},{"s":"FedEx-LoRA","t":26,"v":41.7},{"s":"FedEx-LoRA","t":29.8,"v":41.9},{"s":"FedEx-LoRA","t":33.6,"v":42.1},{"s":"FedEx-LoRA","t":37.5,"v":41.9},{"s":"FedEx-LoRA","t":41.4,"v":42.3},{"s":"FedEx-LoRA","t":45.2,"v":42.5},{"s":"FedEx-LoRA","t":49,"v":42.4},{"s":"FedEx-LoRA","t":52.9,"v":42.7},{"s":"FedEx-LoRA","t":55.8,"v":42.9},{"s":"FedEx-LoRA","t":58.7,"v":43.1},{"s":"FedEx-LoRA","t":61,"v":42.8},{"s":"FedEx-LoRA","t":63.5,"v":43.1},{"s":"FedEx-LoRA","t":65,"v":43.3},
{"s":"iFLoRA","t":0,"v":27},{"s":"iFLoRA","t":0.5,"v":32},{"s":"iFLoRA","t":1,"v":36.6},{"s":"iFLoRA","t":1.9,"v":40},{"s":"iFLoRA","t":3.3,"v":41},{"s":"iFLoRA","t":5.8,"v":41.7},{"s":"iFLoRA","t":8.7,"v":42.3},{"s":"iFLoRA","t":10.6,"v":42.6},{"s":"iFLoRA","t":12.5,"v":42.9},{"s":"iFLoRA","t":14,"v":43.1},{"s":"iFLoRA","t":15.4,"v":43.4},{"s":"iFLoRA","t":16.8,"v":43.3},{"s":"iFLoRA","t":18,"v":43.4},{"s":"iFLoRA","t":19.2,"v":43.2}
]
},
"concat": [
{"width": 247, "height": 148, "data": {"name": "a"},
 "title": {"text": "(a) 20NEWS (BERT).", "orient": "bottom", "baseline": "alphabetic", "offset": 35, "dx": -17},
 "mark": {"type": "line", "strokeWidth": 1.8, "clip": true},
 "encoding": {
  "x": {"field": "t", "type": "quantitative", "scale": {"domain": [0, 212], "nice": false, "zero": false}, "axis": {"values": [0, 50, 100, 150, 200], "title": "Training Time (hours)"}},
  "y": {"field": "v", "type": "quantitative", "scale": {"domain": [0, 81], "nice": false, "zero": false}, "axis": {"values": [0, 20, 40, 60, 80], "title": "Accuracy (%)"}},
  "color": {"field": "s", "type": "nominal", "scale": {"domain": ["FedPETuning", "FFA-LoRA", "FedEx-LoRA", "iFLoRA"], "range": ["#2f8ac9", "#3cae3c", "#f47a25", "#7d3fe0"]}, "legend": {"title": null, "orient": "none", "legendX": 119, "legendY": 65}},
  "strokeDash": {"field": "s", "type": "nominal", "scale": {"domain": ["FedPETuning", "FFA-LoRA", "FedEx-LoRA", "iFLoRA"], "range": [[5.5, 2.4], [5.5, 2.4], [5.5, 2.4], [1, 0]]}, "legend": {"title": null, "orient": "none", "legendX": 119, "legendY": 65}}
 }},
{"width": 247, "height": 148, "data": {"name": "b"},
 "title": {"text": "(b) 20NEWS (RoBERTa).", "orient": "bottom", "baseline": "alphabetic", "offset": 35, "dx": -21},
 "mark": {"type": "line", "strokeWidth": 1.8, "clip": true},
 "encoding": {
  "x": {"field": "t", "type": "quantitative", "scale": {"domain": [0, 128], "nice": false, "zero": false}, "axis": {"values": [0, 30, 60, 90, 120], "title": "Training Time (hours)"}},
  "y": {"field": "v", "type": "quantitative", "scale": {"domain": [0, 81], "nice": false, "zero": false}, "axis": {"values": [0, 20, 40, 60, 80], "title": "Accuracy (%)"}},
  "color": {"field": "s", "type": "nominal", "scale": {"domain": ["FedPETuning", "FFA-LoRA", "FedEx-LoRA", "iFLoRA"], "range": ["#2f8ac9", "#3cae3c", "#f47a25", "#7d3fe0"]}, "legend": {"title": null, "orient": "none", "legendX": 119, "legendY": 65}},
  "strokeDash": {"field": "s", "type": "nominal", "scale": {"domain": ["FedPETuning", "FFA-LoRA", "FedEx-LoRA", "iFLoRA"], "range": [[5.5, 2.4], [5.5, 2.4], [5.5, 2.4], [1, 0]]}, "legend": {"title": null, "orient": "none", "legendX": 119, "legendY": 65}}
 }},
{"width": 247, "height": 148, "data": {"name": "c"},
 "title": {"text": "(c) AGNEWS (BERT).", "orient": "bottom", "baseline": "alphabetic", "offset": 35, "dx": -17},
 "mark": {"type": "line", "strokeWidth": 1.8, "clip": true},
 "encoding": {
  "x": {"field": "t", "type": "quantitative", "scale": {"domain": [0, 42.6], "nice": false, "zero": false}, "axis": {"values": [0, 10, 20, 30, 40], "title": "Training Time (hours)"}},
  "y": {"field": "v", "type": "quantitative", "scale": {"domain": [25.6, 92.2], "nice": false, "zero": false}, "axis": {"values": [30, 50, 70, 90], "title": "Accuracy (%)"}},
  "color": {"field": "s", "type": "nominal", "scale": {"domain": ["FedPETuning", "FFA-LoRA", "FedEx-LoRA", "iFLoRA"], "range": ["#2f8ac9", "#3cae3c", "#f47a25", "#7d3fe0"]}, "legend": {"title": null, "orient": "none", "legendX": 119, "legendY": 66}},
  "strokeDash": {"field": "s", "type": "nominal", "scale": {"domain": ["FedPETuning", "FFA-LoRA", "FedEx-LoRA", "iFLoRA"], "range": [[5.5, 2.4], [5.5, 2.4], [5.5, 2.4], [1, 0]]}, "legend": {"title": null, "orient": "none", "legendX": 119, "legendY": 66}}
 }},
{"width": 247, "height": 148, "data": {"name": "d"},
 "title": {"text": "(d) AGNEWS (RoBERTa).", "orient": "bottom", "baseline": "alphabetic", "offset": 35, "dx": -21},
 "mark": {"type": "line", "strokeWidth": 1.8, "clip": true},
 "encoding": {
  "x": {"field": "t", "type": "quantitative", "scale": {"domain": [0, 27.2], "nice": false, "zero": false}, "axis": {"values": [0, 5, 10, 15, 20, 25], "title": "Training Time (hours)"}},
  "y": {"field": "v", "type": "quantitative", "scale": {"domain": [25.6, 92.2], "nice": false, "zero": false}, "axis": {"values": [30, 50, 70, 90], "title": "Accuracy (%)"}},
  "color": {"field": "s", "type": "nominal", "scale": {"domain": ["FedPETuning", "FFA-LoRA", "FedEx-LoRA", "iFLoRA"], "range": ["#2f8ac9", "#3cae3c", "#f47a25", "#7d3fe0"]}, "legend": {"title": null, "orient": "none", "legendX": 119, "legendY": 66}},
  "strokeDash": {"field": "s", "type": "nominal", "scale": {"domain": ["FedPETuning", "FFA-LoRA", "FedEx-LoRA", "iFLoRA"], "range": [[5.5, 2.4], [5.5, 2.4], [5.5, 2.4], [1, 0]]}, "legend": {"title": null, "orient": "none", "legendX": 119, "legendY": 66}}
 }},
{"width": 247, "height": 148, "data": {"name": "e"},
 "title": {"text": "(e) SQuAD2.0 (Llama-3.2).", "orient": "bottom", "baseline": "alphabetic", "offset": 35, "dx": -17},
 "mark": {"type": "line", "strokeWidth": 1.8, "clip": true},
 "encoding": {
  "x": {"field": "t", "type": "quantitative", "scale": {"domain": [-10.5, 313], "nice": false, "zero": false}, "axis": {"values": [0, 50, 100, 150, 200, 250, 300], "title": "Training Time (hours)"}},
  "y": {"field": "v", "type": "quantitative", "scale": {"domain": [73.1, 91.5], "nice": false, "zero": false}, "axis": {"values": [74, 80, 90], "title": "F1 Score (%)"}},
  "color": {"field": "s", "type": "nominal", "scale": {"domain": ["FedPETuning", "FFA-LoRA", "FedEx-LoRA", "iFLoRA"], "range": ["#2f8ac9", "#3cae3c", "#f47a25", "#7d3fe0"]}, "legend": {"title": null, "orient": "none", "legendX": 117, "legendY": 67}},
  "strokeDash": {"field": "s", "type": "nominal", "scale": {"domain": ["FedPETuning", "FFA-LoRA", "FedEx-LoRA", "iFLoRA"], "range": [[5.5, 2.4], [5.5, 2.4], [5.5, 2.4], [1, 0]]}, "legend": {"title": null, "orient": "none", "legendX": 117, "legendY": 67}}
 }},
{"width": 247, "height": 148, "data": {"name": "f"},
 "title": {"text": "(f) SAMSum (Llama-3.2).", "orient": "bottom", "baseline": "alphabetic", "offset": 35, "dx": -21},
 "mark": {"type": "line", "strokeWidth": 1.8, "clip": true},
 "encoding": {
  "x": {"field": "t", "type": "quantitative", "scale": {"domain": [-4.6, 138.5], "nice": false, "zero": false}, "axis": {"values": [0, 30, 60, 90, 120], "title": "Training Time (hours)"}},
  "y": {"field": "v", "type": "quantitative", "scale": {"domain": [25.1, 44.1], "nice": false, "zero": false}, "axis": {"values": [26, 30, 35, 40], "title": "ROUGE-L (%)"}},
  "color": {"field": "s", "type": "nominal", "scale": {"domain": ["FedPETuning", "FFA-LoRA", "FedEx-LoRA", "iFLoRA"], "range": ["#2f8ac9", "#3cae3c", "#f47a25", "#7d3fe0"]}, "legend": {"title": null, "orient": "none", "legendX": 119, "legendY": 65}},
  "strokeDash": {"field": "s", "type": "nominal", "scale": {"domain": ["FedPETuning", "FFA-LoRA", "FedEx-LoRA", "iFLoRA"], "range": [[5.5, 2.4], [5.5, 2.4], [5.5, 2.4], [1, 0]]}, "legend": {"title": null, "orient": "none", "legendX": 119, "legendY": 65}}
 }}
]
}
